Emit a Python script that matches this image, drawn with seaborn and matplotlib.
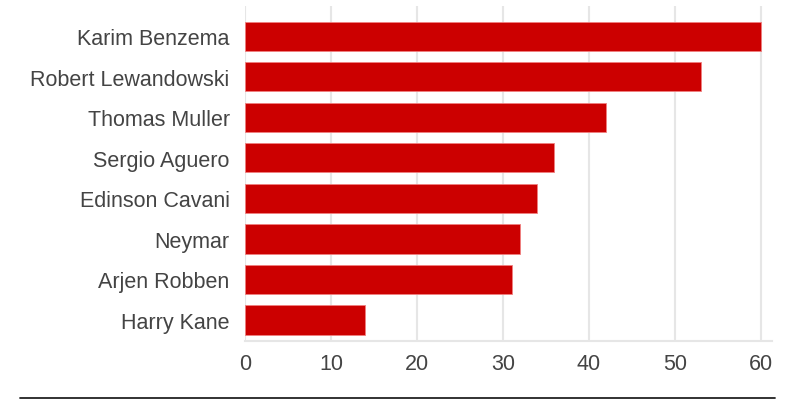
import matplotlib
matplotlib.use("Agg")
import matplotlib.pyplot as plt
import seaborn as sns
import pandas as pd
from matplotlib.lines import Line2D

players = ["Karim Benzema", "Robert Lewandowski", "Thomas Muller", "Sergio Aguero",
           "Edinson Cavani", "Neymar", "Arjen Robben", "Harry Kane"]
goals = [60, 53, 42, 36, 34, 32, 31, 14]
xticks = [0, 10, 20, 30, 40, 50, 60]

df = pd.DataFrame({"player": players, "goals": goals})

sns.set_theme(style="white")
plt.rcParams['font.family'] = ['Liberation Sans', 'DejaVu Sans']

fig = plt.figure(figsize=(8, 4.02), dpi=100)
ax = fig.add_axes([245/800, 1-342/402, (772-245)/800, (342-7)/402])

sns.barplot(data=df, x="goals", y="player", orient="h", color="#cc0000",
            width=0.72, saturation=1, edgecolor="#f08080", linewidth=0.6, ax=ax, zorder=3)

ax.set_xlim(0, 61.3)
ax.set_ylim(7.52, -0.75)
ax.set_xticks(xticks)
ax.set_xticklabels([str(t) for t in xticks])
ax.grid(axis="x", color="#e6e6e6", linewidth=1.5, zorder=0)
ax.set_axisbelow(True)
for s in ["top", "right", "left"]:
    ax.spines[s].set_visible(False)
ax.spines["bottom"].set_color("#e6e6e6")
ax.spines["bottom"].set_linewidth(1.5)
ax.set_xlabel("")
ax.set_ylabel("")
ax.tick_params(axis="both", length=0, labelsize=15.5, labelcolor="#444444")
ax.tick_params(axis="y", pad=11)
ax.tick_params(axis="x", pad=9)

fig.add_artist(Line2D([20/800, 775/800], [1-399/402, 1-399/402], color="#222222", linewidth=1.3))

fig.savefig("out.png", dpi=100)
